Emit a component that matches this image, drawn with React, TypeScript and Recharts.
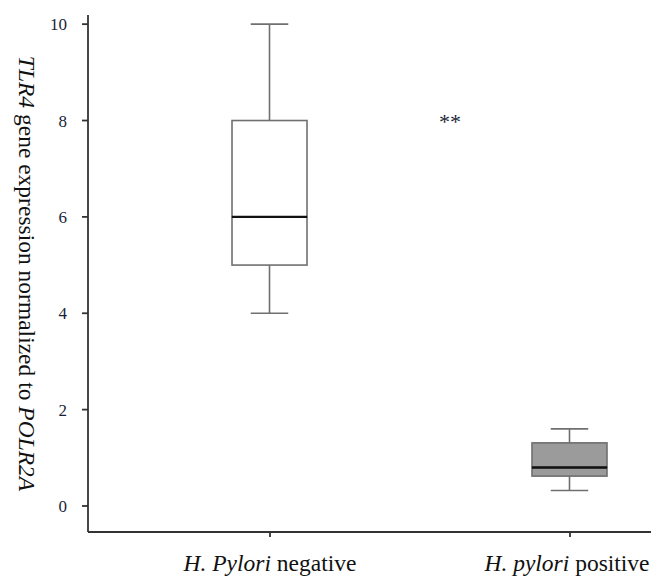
import { ComposedChart, Bar, XAxis, YAxis, Label, ReferenceDot } from "recharts";

// box plot summary per group
const groupItalic = ["H. Pylori", "H. pylori"];
const groupPlain = [" negative", " positive"];
const groupPos = [1, 2];
const whiskerLow = [4, 0.32];
const quartile1 = [5, 0.62];
const medians = [6, 0.8];
const quartile3 = [8, 1.31];
const whiskerHigh = [10, 1.6];
const boxFill = ["#ffffff", "#9b9b9b"];
const yTicks = [0, 2, 4, 6, 8, 10];

const starsAt = { x: 1.6, y: 8, text: "**" };

const data = groupPos.map((pos, i) => ({
  pos,
  boxColor: boxFill[i],
  base: whiskerLow[i],
  lowWhisker: quartile1[i] - whiskerLow[i],
  boxLow: medians[i] - quartile1[i],
  boxHigh: quartile3[i] - medians[i],
  highWhisker: whiskerHigh[i] - quartile3[i],
}));

const FONT = "'Liberation Serif', 'Times New Roman', serif";
const LINE = "#707070";
const BOX_W = 75;
// small nudge so the right label stays inside the page, as in the figure
const LABEL_NUDGE = [0, -3];

const LowWhisker = (p: any) => {
  const cx = p.x + p.width / 2;
  const yb = p.y + p.height;
  return (
    <g>
      <line x1={cx} x2={cx} y1={p.y} y2={yb} stroke={LINE} strokeWidth={1.6} />
      <line x1={cx - p.width / 4} x2={cx + p.width / 4} y1={yb} y2={yb} stroke={LINE} strokeWidth={1.6} />
    </g>
  );
};

const HighWhisker = (p: any) => {
  const cx = p.x + p.width / 2;
  return (
    <g>
      <line x1={cx} x2={cx} y1={p.y} y2={p.y + p.height} stroke={LINE} strokeWidth={1.6} />
      <line x1={cx - p.width / 4} x2={cx + p.width / 4} y1={p.y} y2={p.y} stroke={LINE} strokeWidth={1.6} />
    </g>
  );
};

const BoxLow = (p: any) => (
  <rect x={p.x} y={p.y} width={p.width} height={p.height} fill={p.payload.boxColor} stroke={LINE} strokeWidth={1.6} />
);

const BoxHigh = (p: any) => (
  <g>
    <rect x={p.x} y={p.y} width={p.width} height={p.height} fill={p.payload.boxColor} stroke={LINE} strokeWidth={1.6} />
    <line x1={p.x} x2={p.x + p.width} y1={p.y + p.height} y2={p.y + p.height} stroke="#111" strokeWidth={2.4} />
  </g>
);

const GroupTick = (p: any) => {
  const i = groupPos.indexOf(p.payload.value);
  return (
    <text x={p.x + LABEL_NUDGE[i]} y={p.y + 32} textAnchor="middle" fontFamily={FONT} fontSize={23.5} fill="#111">
      <tspan fontStyle="italic">{groupItalic[i]}</tspan>
      <tspan>{groupPlain[i]}</tspan>
    </text>
  );
};

const YTitle = (p: any) => {
  const vb = p.viewBox;
  const x0 = vb.x + 11;
  const cy = vb.y + vb.height / 2;
  return (
    <text
      x={x0}
      y={cy}
      transform={`rotate(90 ${x0} ${cy})`}
      textAnchor="middle"
      fontFamily={FONT}
      fontSize={23.5}
      fill="#111"
    >
      <tspan fontStyle="italic">TLR4</tspan>
      <tspan> gene expression normalized to </tspan>
      <tspan fontStyle="italic">POLR2A</tspan>
    </text>
  );
};

export default function App() {
  return (
    <ComposedChart
      width={651}
      height={568}
      data={data}
      margin={{ top: 7, right: 0, bottom: 0, left: 0 }}
    >
      <XAxis
        type="number"
        dataKey="pos"
        domain={[0.3933, 2.2967]}
        ticks={groupPos}
        allowDataOverflow
        height={44}
        tickSize={5}
        stroke="#333"
        strokeWidth={1.8}
        tick={<GroupTick />}
      />
      <YAxis
        type="number"
        domain={[-0.54, 10.19]}
        ticks={yTicks}
        allowDataOverflow
        width={80}
        tickSize={6}
        tickMargin={15}
        stroke="#333"
        strokeWidth={1.8}
        tick={{ fontFamily: FONT, fontSize: 17, fill: "#1a1f38" }}
      >
        <Label content={<YTitle />} />
      </YAxis>
      <Bar dataKey="base" stackId="b" barSize={BOX_W} fill="transparent" shape={() => <g />} isAnimationActive={false} />
      <Bar dataKey="lowWhisker" stackId="b" barSize={BOX_W} shape={<LowWhisker />} isAnimationActive={false} />
      <Bar dataKey="boxLow" stackId="b" barSize={BOX_W} shape={<BoxLow />} isAnimationActive={false} />
      <Bar dataKey="boxHigh" stackId="b" barSize={BOX_W} shape={<BoxHigh />} isAnimationActive={false} />
      <Bar dataKey="highWhisker" stackId="b" barSize={BOX_W} shape={<HighWhisker />} isAnimationActive={false} />
      <ReferenceDot
        x={starsAt.x}
        y={starsAt.y}
        r={0}
        shape={(p: any) => (
          <text x={p.cx} y={p.cy + 8} textAnchor="middle" fontFamily={FONT} fontSize={22} fill="#1a1f38">
            {starsAt.text}
          </text>
        )}
      />
    </ComposedChart>
  );
}
